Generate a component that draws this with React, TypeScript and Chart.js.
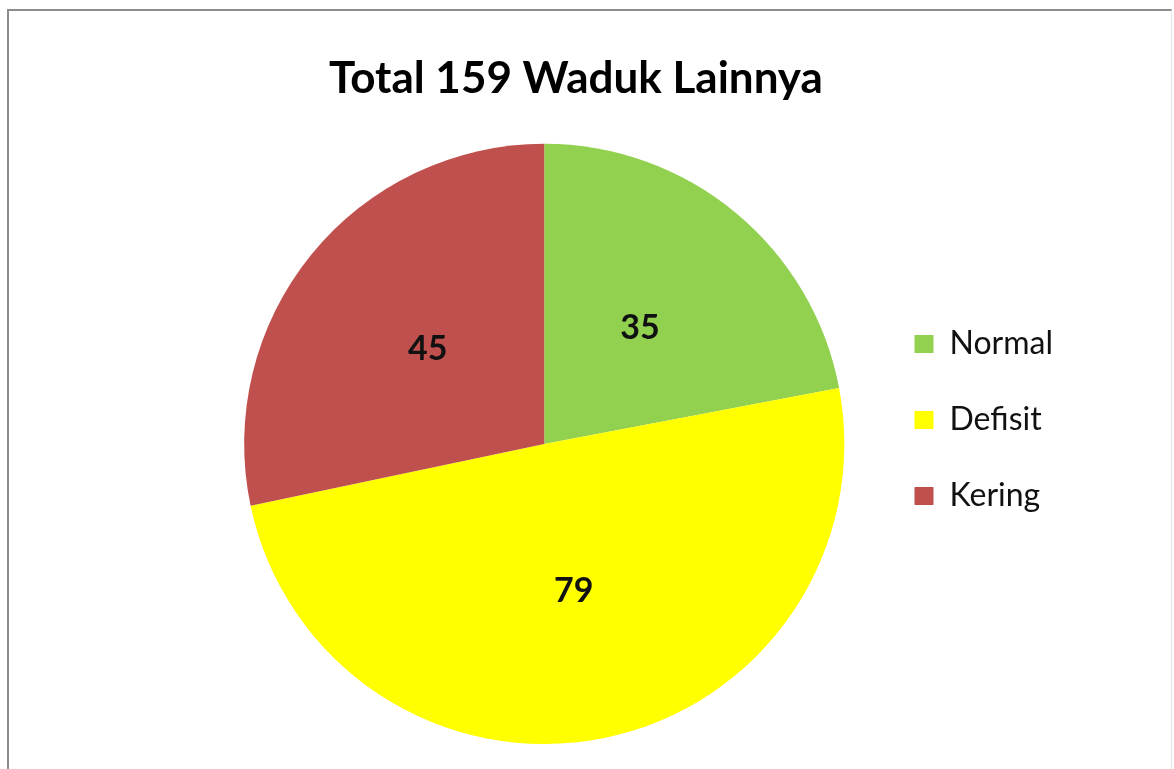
import React, { useEffect, useRef } from "react";
import { Chart, registerables } from "chart.js";

Chart.register(...registerables);

const chartTitle = "Total 159 Waduk Lainnya";
const categories = ["Normal", "Defisit", "Kering"];
const values = [35, 79, 45];
const colors = ["#92D050", "#FFFF00", "#C0504D"];

const valueLabels = {
  id: "valueLabels",
  afterDatasetsDraw(chart: any) {
    const ctx = chart.ctx;
    const meta = chart.getDatasetMeta(0);
    ctx.save();
    ctx.font = "bold 34px Lato";
    ctx.fillStyle = "#111111";
    ctx.textAlign = "center";
    ctx.textBaseline = "middle";
    meta.data.forEach((arc: any, i: number) => {
      const p = arc.tooltipPosition();
      ctx.fillText(String(chart.data.datasets[0].data[i]), p.x, p.y);
    });
    ctx.restore();
  },
};

// Title centred over the whole chart frame rather than the padded box.
const titleSpan = {
  id: "titleSpan",
  afterLayout(chart: any) {
    const t = chart.titleBlock;
    if (!t) return;
    t.left = 0;
    t.right = chart.width - 22;
    t.width = t.right - t.left;
  },
};

export default function App() {
  const ref = useRef<HTMLCanvasElement>(null);
  useEffect(() => {
    if (!ref.current) return;
    const chart = new Chart(ref.current, {
      type: "pie",
      data: {
        labels: categories,
        datasets: [
          {
            data: values,
            backgroundColor: colors,
            borderWidth: 0,
          },
        ],
      },
      options: {
        animation: false,
        responsive: false,
        maintainAspectRatio: false,
        layout: { padding: { left: 218, right: 111, top: 0, bottom: 25 } },
        plugins: {
          title: {
            display: true,
            text: chartTitle,
            color: "#000000",
            font: { family: "Lato", size: 44, weight: "bold", lineHeight: 1.2 },
            padding: { top: 52, bottom: 39 },
          },
          legend: {
            display: true,
            position: "right",
            title: {
              display: true,
              text: " ",
              font: { family: "Lato", size: 10, lineHeight: 1.2 },
              padding: { top: 84, bottom: 0 },
            },
            labels: {
              boxWidth: 19,
              boxHeight: 18,
              padding: 44,
              textAlign: "left",
              color: "#111111",
              font: { family: "Lato", size: 32 },
            },
          },
          tooltip: { enabled: false },
        },
      },
      plugins: [valueLabels, titleSpan],
    });
    return () => chart.destroy();
  }, []);
  return (
    <div
      style={{
        position: "fixed",
        left: 0,
        top: 0,
        width: 1174,
        height: 769,
        overflow: "hidden",
        background: "#ffffff",
      }}
    >
      <div
        style={{
          position: "absolute",
          left: 7,
          top: 9,
          width: 1165,
          height: 760,
          boxSizing: "border-box",
          borderLeft: "2px solid #8c8c8c",
          borderTop: "2px solid #8c8c8c",
          borderRight: "1px solid #e2e2e2",
        }}
      />
      <canvas
        ref={ref}
        width={1174}
        height={769}
        style={{ position: "absolute", left: 0, top: 0, width: 1174, height: 769 }}
      />
    </div>
  );
}
